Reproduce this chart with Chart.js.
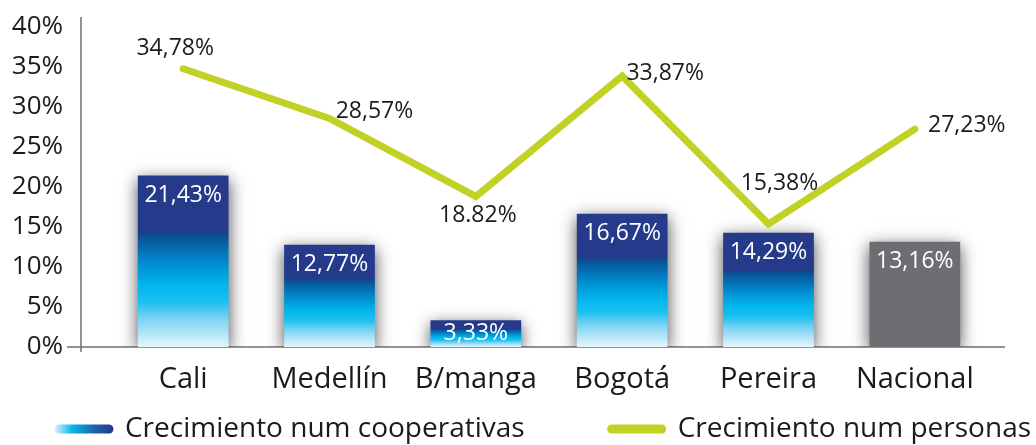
<!DOCTYPE html>
<html>
<head>
<meta charset="utf-8">
<script src="https://cdn.jsdelivr.net/npm/chart.js@4.4.1/dist/chart.umd.min.js"></script>
<style>
  html, body { margin: 0; padding: 0; background: #ffffff; }
  #wrap { width: 1036px; height: 445px; }
</style>
</head>
<body>
<div id="wrap"><canvas id="c" width="1036" height="445"></canvas></div>
<script>
// ---- DATA ----
const categories = ['Cali', 'Medellín', 'B/manga', 'Bogotá', 'Pereira', 'Nacional'];
const cooperativas = [21.43, 12.77, 3.33, 16.67, 14.29, 13.16];
const personas = [34.78, 28.57, 18.82, 33.87, 15.38, 27.23];
const cooperativasLabels = ['21,43%', '12,77%', '3,33%', '16,67%', '14,29%', '13,16%'];
const personasLabels = ['34,78%', '28,57%', '18.82%', '33,87%', '15,38%', '27,23%'];
const seriesNames = ['Crecimiento num cooperativas', 'Crecimiento num personas'];
const yTicks = [0, 5, 10, 15, 20, 25, 30, 35, 40];

// ---- STYLE ----
const FONT = '"Open Sans", "DejaVu Sans", sans-serif';
const NAVY = '#263a8b';
const LIME = '#c2d126';
const GRAY = '#6d6e71';
const TEXT = '#1b1b1b';
const AXIS = '#707070';
// label offsets (px) for the line value labels, relative to each point
const lineLabelOffsets = [[-8, -20], [45, -7], [2, 19], [43, -3], [11, -41], [52, -4]];

function barFill(ctx) {
  const chart = ctx.chart;
  if (ctx.type !== 'data' || !chart.chartArea) return NAVY;
  if (categories[ctx.dataIndex] === 'Nacional') return GRAY;
  const y = chart.scales.y;
  const top = y.getPixelForValue(ctx.raw);
  const bot = y.getPixelForValue(0);
  const g = chart.ctx.createLinearGradient(0, top, 0, bot);
  g.addColorStop(0, NAVY);
  g.addColorStop(0.33, NAVY);
  g.addColorStop(0.345, '#0b4d92');
  g.addColorStop(0.5, '#0088cc');
  g.addColorStop(0.64, '#00b6ec');
  g.addColorStop(0.74, '#1ec0ef');
  g.addColorStop(0.84, '#7fd4f4');
  g.addColorStop(1, '#e6f6fd');
  return g;
}

const decorPlugin = {
  id: 'decor',
  beforeDatasetDraw(chart, args) {
    if (args.meta.type === 'bar') {
      const ctx = chart.ctx;
      ctx.save();
      ctx.shadowColor = 'rgba(0,0,0,0.7)';
      ctx.shadowBlur = 16;
      ctx.shadowOffsetX = 0;
      ctx.shadowOffsetY = 4;
    }
  },
  afterDatasetDraw(chart, args) {
    if (args.meta.type === 'bar') chart.ctx.restore();
  },
  beforeDatasetsDraw(chart) {
    const ctx = chart.ctx;
    const a = chart.chartArea;
    ctx.save();
    ctx.strokeStyle = AXIS;
    ctx.lineWidth = 1.5;
    ctx.beginPath();
    ctx.moveTo(a.left - 29, a.top - 10);
    ctx.lineTo(a.left - 29, a.bottom + 5);
    ctx.moveTo(a.left - 43, a.bottom);
    ctx.lineTo(a.right + 17, a.bottom);
    ctx.stroke();
    ctx.restore();
  },
  afterDatasetsDraw(chart) {
    const ctx = chart.ctx;
    ctx.save();
    ctx.textAlign = 'center';
    ctx.textBaseline = 'middle';
    ctx.font = '23px ' + FONT;
    const barMeta = chart.getDatasetMeta(0);
    const bot = chart.scales.y.getPixelForValue(0);
    ctx.fillStyle = '#ffffff';
    barMeta.data.forEach((el, i) => {
      const y = Math.min(el.y + 20, bot - 14);
      ctx.fillText(cooperativasLabels[i], el.x, y);
    });
    const lineMeta = chart.getDatasetMeta(1);
    ctx.fillStyle = TEXT;
    lineMeta.data.forEach((el, i) => {
      const o = lineLabelOffsets[i];
      ctx.fillText(personasLabels[i], el.x + o[0], el.y + o[1]);
    });
    ctx.restore();
  },
  afterDraw(chart) {
    const ctx = chart.ctx;
    ctx.save();
    ctx.font = '28px ' + FONT;
    ctx.textBaseline = 'middle';
    ctx.textAlign = 'left';
    const sw = 58, gapT = 12, gapItem = 83;
    const w1 = ctx.measureText(seriesNames[0]).width;
    const w2 = ctx.measureText(seriesNames[1]).width;
    const total = sw + gapT + w1 + gapItem + sw + gapT + w2;
    let x = 543 - total / 2;
    const y = 429;
    ctx.lineCap = 'round';
    ctx.lineWidth = 9;
    const g = ctx.createLinearGradient(x, 0, x + sw, 0);
    g.addColorStop(0, '#d9f2fc');
    g.addColorStop(0.3, '#00b6ec');
    g.addColorStop(0.7, '#1d5fa8');
    g.addColorStop(1, NAVY);
    ctx.strokeStyle = g;
    ctx.beginPath(); ctx.moveTo(x + 4, y); ctx.lineTo(x + sw - 4, y); ctx.stroke();
    x += sw + gapT;
    ctx.fillStyle = TEXT;
    ctx.fillText(seriesNames[0], x, y);
    x += w1 + gapItem;
    ctx.strokeStyle = LIME;
    ctx.beginPath(); ctx.moveTo(x + 4, y); ctx.lineTo(x + sw - 4, y); ctx.stroke();
    x += sw + gapT;
    ctx.fillText(seriesNames[1], x, y);
    ctx.restore();
  }
};

new Chart(document.getElementById('c'), {
  data: {
    labels: categories,
    datasets: [
      {
        type: 'bar',
        label: seriesNames[0],
        data: cooperativas,
        backgroundColor: barFill,
        borderWidth: 0,
        barPercentage: 0.62,
        categoryPercentage: 1.0,
        order: 2
      },
      {
        type: 'line',
        label: seriesNames[1],
        data: personas,
        borderColor: LIME,
        borderWidth: 7,
        pointRadius: 0,
        borderCapStyle: 'round',
        borderJoinStyle: 'miter',
        tension: 0,
        fill: false,
        order: 1
      }
    ]
  },
  options: {
    responsive: false,
    animation: false,
    layout: { padding: { top: 27, right: 48, bottom: 49, left: 0 } },
    plugins: {
      legend: { display: false },
      tooltip: { enabled: false }
    },
    scales: {
      x: {
        grid: { display: false, drawTicks: false },
        border: { display: false },
        ticks: { color: TEXT, font: { family: FONT, size: 29 }, padding: 15, maxRotation: 0, autoSkip: false },
        afterFit(s) { s.height = 49; }
      },
      y: {
        min: 0, max: 40,
        grid: { display: false, drawTicks: false },
        border: { display: false },
        afterBuildTicks(s) { s.ticks = yTicks.map(v => ({ value: v })); },
        ticks: { color: TEXT, font: { family: FONT, size: 26 }, padding: 47, callback: v => v + '%' },
        afterFit(s) { s.width = 110; s.paddingTop = 14; s.paddingBottom = 14; }
      }
    }
  },
  plugins: [decorPlugin]
});
</script>
</body>
</html>
